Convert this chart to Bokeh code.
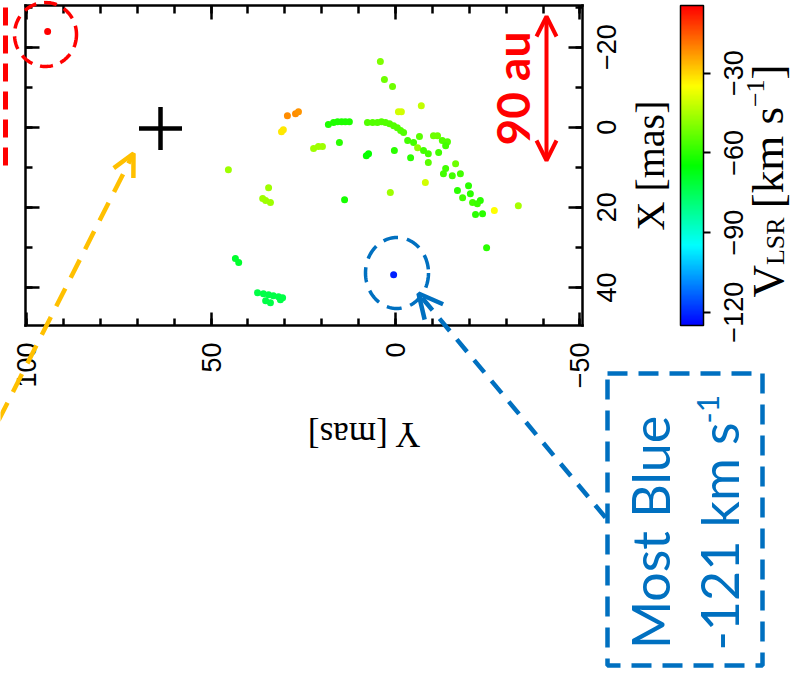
import math
import colorsys
import numpy as np
from bokeh.plotting import figure
from bokeh.models import (Range1d, LinearAxis, SingleIntervalTicker, FixedTicker, ColorBar,
                          LinearColorMapper, Label, Arrow, OpenHead, PolyAnnotation,
                          ColumnDataSource, CustomJSTickFormatter)
from bokeh.transform import linear_cmap
from bokeh.embed import file_html
from bokeh.resources import INLINE

# ---------------- data ----------------
# Y offset [mas] (horizontal axis, increasing to the left)
pos_y_mas = [94.3,
             29.3, 27.1, 26.3, 30.9, 30.4,
             4.1, 3.0, 0.8, -0.8, -1.6, -7.0,
             18.2, 16.8, 15.7, 14.6, 13.6, 12.5,
             7.6, 6.2, 4.9, 3.8, 2.7, 1.6, 0.5, -0.5, -1.4, -2.2,
             22.2, 20.9, 19.8, 15.2, 7.9, 7.3, 0.3,
             -3.3, -4.9, -6.5, -6.0, -7.6,
             -10.3, -11.4, -12.7, -14.1, -13.6,
             -8.9, -8.9, -11.7, -4.1,
             -16.3, -13.6, -13.0, -15.4, -17.6,
             -8.1, 1.4,
             -16.8, -18.2, -19.8, -20.3, -20.9, -23.0, -22.2,
             -21.7, -23.6, -26.8, -24.7, -33.3,
             13.8, 45.3, 34.4, 36.0, 33.9, 35.2,
             43.4, 42.5,
             37.4, 35.8, 34.4, 33.1, 31.7, 30.6, 35.2, 33.9, 31.2,
             0.5]
# X offset [mas] (vertical axis, increasing downwards)
pos_x_mas = [-23.9,
             -2.9, -3.4, -3.9, 1.1, 0.6,
             -16.4, -11.9, -10.2, -3.9, -3.9, -5.4,
             -0.7, -1.2, -1.4, -1.4, -1.4, -1.4,
             -1.2, -1.2, -1.2, -1.4, -1.2, -0.9, -0.4, 0.1, 0.8, 1.3,
             5.3, 4.8, 4.8, 3.8, 7.1, 6.6, 5.8,
             3.3, 3.8, 2.3, 5.1, 5.8,
             2.1, 2.1, 3.3, 3.6, 4.6,
             6.6, 8.8, 6.3, 7.6,
             9.1, 10.3, 11.6, 12.1, 11.6,
             13.8, 16.3,
             15.8, 17.6, 14.6, 16.6, 18.8, 18.3, 19.1,
             21.8, 21.6, 20.8, 30.1, 19.6,
             18.1, 10.6, 15.1, 17.8, 18.8, 18.3,
             32.8, 33.8,
             41.3, 41.6, 41.8, 42.1, 42.3, 42.6, 43.3, 43.8, 43.1,
             36.8]
# V_LSR [km/s]
v_lsr = [-4.5,
         -21, -21, -22, -32, -32,
         -50, -52, -52, -40, -40, -42,
         -61, -61, -61, -61, -61, -61,
         -55, -55, -55, -55, -55, -55, -55, -55, -55, -55,
         -46, -46, -46, -60, -64, -64, -60,
         -57, -57, -54, -48, -57,
         -52, -52, -55, -55, -57,
         -57, -54, -57, -60,
         -52, -57, -57, -57, -57,
         -40, -46,
         -60, -57, -60, -60, -57, -60, -58,
         -60, -60, -35, -60, -45,
         -62, -46, -46, -46, -46, -46,
         -70, -70,
         -73, -73, -73, -73, -73, -73, -73, -73, -73,
         -121]

star_y = [63.7]
star_x = [0.3]

y_tick_labels = {100: "100", 50: "50", 0: "0", -50: "\u221250"}
x_ticks = [-20, 0, 20, 40]
x_tick_labels = ["\u221220", "0", "20", "40"]
cbar_ticks = [-120, -90, -60, -30]
cbar_tick_labels = ["\u2212120", "\u221290", "\u221260", "\u221230"]
V_LOW, V_HIGH = -125.0, -4.5

# ---------------- geometry ----------------
W, H = 792, 678
FL, FT, FR, FB = 25, 5, 582, 325          # plot box edges in canvas pixels
Y_LEFT, Y_RIGHT = 100.3, -50.7            # Y [mas] at box left / right
X_TOP, X_BOTTOM = -30.4, 49.5             # X [mas] at box top / bottom


def dx(cx):
    return Y_LEFT + (cx - FL) * (Y_RIGHT - Y_LEFT) / (FR - FL)


def dy(cy):
    return X_TOP + (cy - FT) * (X_BOTTOM - X_TOP) / (FB - FT)


# colour bar spans the same height as the box
v_per_px = (V_HIGH - V_LOW) / (FB - FT)
v_range = Range1d(V_LOW - (H - FB) * v_per_px, V_HIGH + FT * v_per_px)

# rainbow palette: blue (low) -> red (high)
palette = []
for i in range(256):
    h = (240.0 * (1 - i / 255.0)) / 360.0
    r, g, b = colorsys.hsv_to_rgb(h, 1, 1)
    palette.append("#%02x%02x%02x" % (int(r * 255 + .5), int(g * 255 + .5), int(b * 255 + .5)))

p = figure(width=W, height=H, output_backend="svg", toolbar_location=None,
           x_range=Range1d(dx(0), dx(W)), y_range=Range1d(dy(H), dy(0)),
           x_axis_type=None, y_axis_type=None, min_border=0,
           min_border_left=0, min_border_right=0, min_border_top=0, min_border_bottom=0)
p.extra_y_ranges = {"vlsr": v_range}
p.outline_line_color = None
p.background_fill_color = "white"
p.border_fill_color = "white"

common = dict(axis_line_width=2.5, axis_line_color="black", axis_line_cap="square",
              major_tick_line_width=2.5, minor_tick_line_width=2.5, major_tick_out=0, minor_tick_out=0,
              major_tick_line_color="black", minor_tick_line_color="black")
blank = dict(formatter=CustomJSTickFormatter(code="return ''"), major_label_text_font_size="0px",
             major_label_standoff=0)
tick_y = SingleIntervalTicker(interval=50, num_minor_ticks=5)
tick_x = SingleIntervalTicker(interval=20, num_minor_ticks=2)
bounds_y = (Y_RIGHT, Y_LEFT)
bounds_x = (X_TOP, X_BOTTOM)

ax_b = LinearAxis(ticker=tick_y, fixed_location=X_BOTTOM, bounds=bounds_y,
                  major_tick_in=13, minor_tick_in=7,
                  major_label_orientation=math.pi / 2, major_label_standoff=17,
                  major_label_text_font="Liberation Sans", major_label_text_font_size="27px",
                  major_label_text_color="black", major_label_overrides=y_tick_labels, **common)
p.add_layout(ax_b, "below")
ax_t = LinearAxis(ticker=tick_y, fixed_location=X_TOP, bounds=bounds_y,
                  major_tick_in=14, minor_tick_in=8, **blank, **common)
p.add_layout(ax_t, "above")
ax_l = LinearAxis(ticker=tick_x, fixed_location=Y_LEFT, bounds=bounds_x,
                  major_tick_in=14, minor_tick_in=7, **blank, **common)
p.add_layout(ax_l, "left")
ax_r = LinearAxis(ticker=tick_x, fixed_location=Y_RIGHT, bounds=bounds_x,
                  major_tick_in=14, minor_tick_in=7, **blank, **common)
p.add_layout(ax_r, "right")
# right-axis tick labels, rotated, centred on their ticks
for t, s in zip(x_ticks, x_tick_labels):
    p.add_layout(Label(x=dx(606), y=t, text=s, angle=math.pi / 2, text_align="center",
                       text_baseline="middle", text_font="Liberation Sans", text_font_size="27px",
                       text_color="black"))

# colour bar
mapper = LinearColorMapper(palette=palette, low=V_LOW, high=V_HIGH)
cb = ColorBar(color_mapper=mapper, orientation="vertical", location=(680, H - FB), width=23,
              height=FB - FT, padding=0, margin=0, ticker=FixedTicker(ticks=cbar_ticks),
              formatter=CustomJSTickFormatter(code="return ''"), major_label_text_font_size="0px",
              label_standoff=0, major_tick_in=0, major_tick_out=7, major_tick_line_color="black",
              major_tick_line_width=2, minor_tick_line_color=None, bar_line_color="black",
              bar_line_width=1.5, border_line_color=None, background_fill_alpha=0)
p.add_layout(cb)
for t, s in zip(cbar_ticks, cbar_tick_labels):
    p.add_layout(Label(x=dx(733), y=t, y_range_name="vlsr", text=s, angle=math.pi / 2,
                       text_align="center", text_baseline="middle", text_font="Liberation Sans",
                       text_font_size="27px", text_color="black"))

# maser spots
src = ColumnDataSource(dict(y=pos_y_mas, x=pos_x_mas, v=v_lsr))
p.scatter("y", "x", source=src, size=7, line_color=None,
          fill_color=linear_cmap("v", palette, V_LOW, V_HIGH))
# star position
p.scatter(star_y, star_x, marker="cross", size=43, line_width=4.5, line_color="black")

# axis titles
p.add_layout(Label(x=dx(650), y=dy(165), text="X [mas]", angle=math.pi / 2, text_align="center",
                   text_baseline="middle", text_font="Liberation Serif", text_font_size="40px",
                   text_color="black"))
p.add_layout(Label(x=dx(363), y=dy(434), text="Y [mas]", angle=math.pi, text_align="center",
                   text_baseline="middle", text_font="Liberation Serif", text_font_size="35px",
                   text_color="black"))
# colour bar title V_LSR [km s^-1]  (pieces laid out along the rotated line)
serif = "Liberation Serif"
widths = {"V": .722, "L": .611, "S": .556, "R": .667, " ": .25, "[": .333, "k": .5, "m": .778,
          "s": .389, "\u2212": .564, "1": .5, "]": .333}
MAIN, SMALL = 45, 26
pieces = [("V", MAIN, 767, 0), ("LSR", SMALL, 775, 9), ("[km s", MAIN, 767, 0),
          ("\u22121", SMALL, 755, 0), ("]", MAIN, 767, 0)]
ycur = 297
for txt, fs, cx, gap_after in pieces:
    p.add_layout(Label(x=dx(cx), y=dy(ycur), text=txt, angle=math.pi / 2, text_align="left",
                       text_baseline="middle", text_font=serif, text_font_size="%dpx" % fs,
                       text_color="black"))
    ycur -= sum(widths[c] for c in txt) * fs + gap_after

# ---------------- annotations ----------------
RED, BLUE, ORANGE = "#FF0000", "#0070C0", "#FFC000"

# red dashed rectangle (mostly off the left edge)
p.add_layout(PolyAnnotation(xs=[dx(-60), dx(5), dx(5), dx(-60)], ys=[dy(-40), dy(-40), dy(168), dy(168)],
                            fill_alpha=0, line_alpha=1, line_color=RED, line_width=5, line_dash="18 10"))
# red dashed circle
ang = np.linspace(0, 2 * np.pi, 120)
p.add_layout(PolyAnnotation(xs=[dx(45 + 31 * math.cos(a)) for a in ang],
                            ys=[dy(34 + 32 * math.sin(a)) for a in ang],
                            fill_alpha=0, line_alpha=1, line_color=RED, line_width=3.5, line_dash="13 8"))
# blue dashed ellipse around the most blue spot
p.add_layout(PolyAnnotation(xs=[dx(396.5 + 31.5 * math.cos(a)) for a in ang],
                            ys=[dy(272.5 + 35.5 * math.sin(a)) for a in ang],
                            fill_alpha=0, line_alpha=1, line_color=BLUE, line_width=3.5, line_dash="15 9"))
# blue dashed box
p.add_layout(PolyAnnotation(xs=[dx(607), dx(762), dx(762), dx(607)], ys=[dy(373), dy(373), dy(665), dy(665)],
                            fill_alpha=0, line_alpha=1, line_color=BLUE, line_width=4.5, line_dash="20 11"))
# arrows
p.add_layout(Arrow(x_start=dx(-2), y_start=dy(420), x_end=dx(133), y_end=dy(153),
                   line_color=ORANGE, line_width=4.5, line_dash="20 12",
                   end=OpenHead(size=22, line_color=ORANGE, line_width=4.5)))
p.add_layout(Arrow(x_start=dx(605), y_start=dy(517), x_end=dx(418), y_end=dy(293),
                   line_color=BLUE, line_width=4.5, line_dash="16 11",
                   end=OpenHead(size=24, line_color=BLUE, line_width=4.5)))
p.add_layout(Arrow(x_start=dx(546), y_start=dy(160), x_end=dx(546), y_end=dy(16),
                   line_color=RED, line_width=4,
                   start=OpenHead(size=20, line_color=RED, line_width=4),
                   end=OpenHead(size=20, line_color=RED, line_width=4)))

# texts
p.add_layout(Label(x=dx(512), y=dy(88), text="90 au", angle=math.pi / 2, text_align="center",
                   text_baseline="middle", text_font="Lato", text_font_style="bold",
                   text_font_size="46px", text_color=RED))
p.add_layout(Label(x=dx(649), y=dy(532), text="Most Blue", angle=math.pi / 2, text_align="center",
                   text_baseline="middle", text_font="Lato", text_font_size="52px", text_color=BLUE))
p.add_layout(Label(x=dx(718), y=dy(650), text="-121 km s", angle=math.pi / 2, text_align="left",
                   text_baseline="middle", text_font="Lato", text_font_size="52px", text_color=BLUE))
p.add_layout(Label(x=dx(707), y=dy(423), text="-1", angle=math.pi / 2, text_align="left",
                   text_baseline="middle", text_font="Lato", text_font_size="30px", text_color=BLUE))

open("out.html", "w").write(file_html(p, INLINE))
